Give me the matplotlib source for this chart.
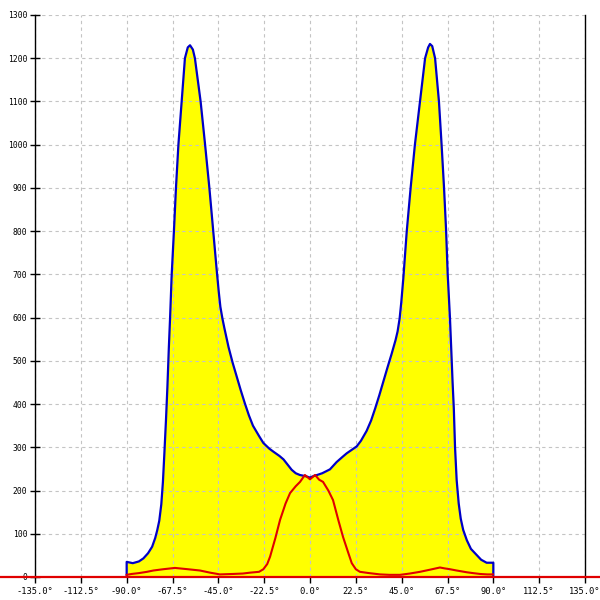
import matplotlib
matplotlib.use("Agg")
import matplotlib.pyplot as plt
import matplotlib.transforms as mtransforms
from matplotlib.ticker import FixedLocator, FuncFormatter

# Envelope (blue line, yellow fill)
blue_angle = [-90, -90, -87, -84, -81.8, -79.5, -77.5, -76, -75, -74, -73, -72.2, -71.5,
              -70.7, -70.0, -69.3, -68.7, -67.9, -66.8, -65.8, -64.6, -63.0, -61.4,
              -60.0, -58.9, -57.5, -56.5, -53.7, -51.5, -49.4, -47.5, -45.8, -44.8,
              -44.0, -43.0, -42.0, -40.0, -38.0, -36.0, -34.0, -32.0, -30.0, -28.0,
              -25.0, -22.9, -20.0, -18.0, -15.0, -13.0, -11.0, -9.0, -7.0, -5.0, -2.0,
              0, 2.0, 3.5, 6.0, 9.8, 13.1, 16.0, 18.0, 22.9, 25.0, 27.8, 30.0, 32.0,
              34.0, 36.0, 38.0, 40.0, 42.0, 43.0, 44.0, 44.8, 45.8, 47.5, 49.4, 51.5,
              54.0, 56.5, 58.0, 58.9, 60.0, 61.4, 63.3, 64.6, 65.8, 66.8, 67.6, 68.7,
              69.4, 70.0, 70.6, 71.2, 72.0, 73.0, 74.0, 75.2, 77.0, 79.0, 81.8, 84.0,
              86.7, 89.7, 90, 90]
blue_value = [0, 35, 32, 36, 43, 55, 70, 90, 108, 130, 168, 220, 285,
              363, 440, 530, 598, 699, 800, 900, 1000, 1100, 1200,
              1225, 1230, 1220, 1200, 1100, 1000, 900, 800, 710, 660,
              625, 598, 575, 532, 496, 464, 432, 402, 374, 350,
              326, 310, 297, 290, 280, 272, 260, 248, 240, 236, 233,
              230, 234, 236, 240, 249, 266, 278, 286, 302, 315, 338, 362, 390,
              420, 452, 484, 515, 548, 568, 598, 635, 690, 800, 900, 1000,
              1100, 1200, 1225, 1233, 1228, 1200, 1100, 1000, 900, 803, 700, 600,
              520, 450, 390, 300, 224, 170, 135, 109, 85, 65, 51, 40,
              33, 33, 33, 0]

# Second series (red line)
red_angle = [-90, -87.6, -84, -80, -76.9, -72, -66.3, -60, -54, -49, -44.2, -38, -33,
             -29.5, -25, -22.9, -21, -19.6, -17, -14.7, -12, -9.8, -7, -4.9, -2.5, 0,
             2.5, 4.5, 6.4, 9, 11.3, 14, 16.2, 18.5, 20.5, 22.5, 24.5, 29, 34.4, 39,
             44.2, 49, 54, 59, 63.8, 66, 68.7, 72, 76.9, 80, 83.5, 87, 89.8]
red_value = [5, 7, 9, 12, 15, 18, 21, 18, 15, 10, 6, 7, 8,
             10, 12, 18, 30, 47, 90, 132, 170, 194, 210, 220, 236, 226,
             236, 225, 220, 200, 178, 130, 93, 60, 32, 18, 12, 9, 6, 5,
             5, 8, 12, 17, 22, 20, 18, 15, 11, 9, 7, 6, 6]

x_ticks = [-135, -112.5, -90, -67.5, -45, -22.5, 0, 22.5, 45, 67.5, 90, 112.5, 135]
y_ticks = list(range(0, 1301, 100))

fig = plt.figure(figsize=(6, 6), dpi=100)
ax = fig.add_axes([35 / 600, 23 / 600, 550 / 600, 562 / 600])

ax.fill_between(blue_angle, blue_value, 0, color="#ffff00", linewidth=0, zorder=1)
ax.plot(blue_angle, blue_value, color="#0000c8", linewidth=1.6, zorder=3)
ax.plot(red_angle, red_value, color="#e00000", linewidth=1.5, zorder=4)

# red baseline across the whole figure width
trans = mtransforms.blended_transform_factory(fig.transFigure, ax.transData)
ax.plot([0, 1], [0, 0], color="#e00000", linewidth=1.6, transform=trans,
        clip_on=False, zorder=5)

ax.set_xlim(-135, 135)
ax.set_ylim(0, 1300)

ax.xaxis.set_major_locator(FixedLocator(x_ticks))
ax.yaxis.set_major_locator(FixedLocator(y_ticks))
ax.xaxis.set_major_formatter(FuncFormatter(lambda v, p: f"{v:.1f}°"))
ax.yaxis.set_major_formatter(FuncFormatter(lambda v, p: f"{int(v)}"))

ax.set_axisbelow("line")
ax.grid(True, color="#c4c4c4", linestyle=(0, (3, 3)), linewidth=0.8)

for s in ["top", "bottom"]:
    ax.spines[s].set_visible(False)
for s in ["left", "right"]:
    ax.spines[s].set_color("black")
    ax.spines[s].set_linewidth(1.0)

ax.tick_params(axis="y", direction="inout", length=7, width=1, pad=2,
               labelsize=5.8, colors="black")
ax.tick_params(axis="x", direction="out", length=4, width=1, pad=3,
               labelsize=6.3, colors="black")
for lab in ax.get_xticklabels() + ax.get_yticklabels():
    lab.set_fontfamily("DejaVu Sans Mono")

fig.savefig("out.png", dpi=100)
